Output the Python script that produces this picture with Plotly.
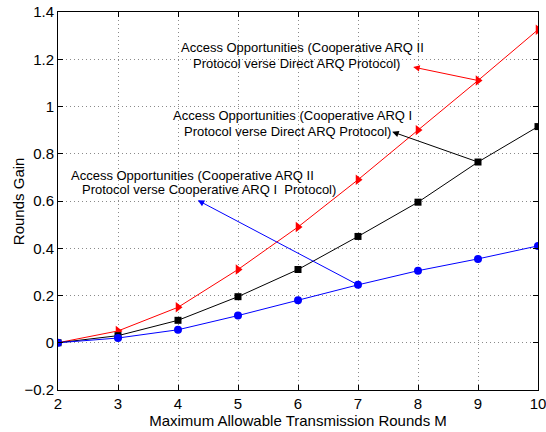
import plotly.graph_objects as go

M = [2, 3, 4, 5, 6, 7, 8, 9, 10]
coop2_vs_direct = [0, 0.05, 0.15, 0.31, 0.49, 0.69, 0.90, 1.11, 1.325]
coop1_vs_direct = [0, 0.03, 0.095, 0.195, 0.31, 0.45, 0.595, 0.765, 0.915]
coop2_vs_coop1 = [0, 0.02, 0.055, 0.115, 0.18, 0.245, 0.305, 0.355, 0.41]

y_ticks = [-0.2, 0, 0.2, 0.4, 0.6, 0.8, 1, 1.2, 1.4]
y_ticklabels = ["\u22120.2", "0", "0.2", "0.4", "0.6", "0.8", "1", "1.2", "1.4"]
x_ticks = [2, 3, 4, 5, 6, 7, 8, 9, 10]

label_lines = [
    ("Access Opportunities (Cooperative ARQ II", 4.03, 1.248),
    ("Protocol verse Direct ARQ Protocol)", 4.23, 1.184),
    ("Access Opportunities (Cooperative ARQ I", 3.90, 0.960),
    ("Protocol verse Direct ARQ Protocol)", 4.08, 0.896),
    ("Access Opportunities (Cooperative ARQ II", 2.20, 0.706),
    ("Protocol verse Cooperative ARQ I  Protocol)", 2.38, 0.647),
]

FONT = "Liberation Sans, Arial, sans-serif"

fig = go.Figure()
fig.add_trace(go.Scatter(x=M, y=coop2_vs_direct, mode="lines+markers",
                         line=dict(color="#ff0000", width=1),
                         marker=dict(symbol="triangle-right", size=9, color="#ff0000")))
fig.add_trace(go.Scatter(x=M, y=coop1_vs_direct, mode="lines+markers",
                         line=dict(color="#000000", width=1),
                         marker=dict(symbol="square", size=7, color="#000000")))
fig.add_trace(go.Scatter(x=M, y=coop2_vs_coop1, mode="lines+markers",
                         line=dict(color="#0000ff", width=1),
                         marker=dict(symbol="circle", size=8, color="#0000ff")))

font_ann = dict(family=FONT, size=13, color="#000000")
for txt, lx, ly in label_lines:
    fig.add_annotation(x=lx, y=ly, xref="x", yref="y", text=txt.replace("  ", " \u00a0"),
                       showarrow=False, font=font_ann, xanchor="left", yanchor="middle",
                       borderpad=0)

arrows = [
    (7.92, 1.167, 9, coop2_vs_direct[7], "#ff0000"),
    (7.57, 0.893, 9, coop1_vs_direct[7], "#000000"),
    (4.33, 0.603, 7, coop2_vs_coop1[5], "#0000ff"),
]
for hx, hy, tx, ty, c in arrows:
    fig.add_annotation(x=hx, y=hy, ax=tx, ay=ty, xref="x", yref="y", axref="x", ayref="y",
                       text="", showarrow=True, arrowhead=2, arrowsize=1.3, arrowwidth=1,
                       arrowcolor=c, standoff=0, startstandoff=0)

# y-axis title placed as a rotated annotation
fig.add_annotation(x=-0.083, y=0.5, xref="paper", yref="paper", text="Rounds Gain",
                   textangle=-90, showarrow=False, xanchor="center", yanchor="middle",
                   font=dict(family=FONT, size=15, color="#000000"))

axis_common = dict(showline=True, linecolor="#000000", linewidth=1, mirror="ticks",
                   ticks="inside", ticklen=5, tickcolor="#000000",
                   showgrid=True, gridcolor="#8a8a8a", griddash="1px,3px", gridwidth=1,
                   zeroline=False, automargin=False, ticklabeloverflow="allow",
                   tickfont=dict(family=FONT, size=15, color="#000000"))

fig.update_xaxes(range=[2, 10], tickvals=x_ticks,
                 title=dict(text="Maximum Allowable Transmission Rounds M",
                            font=dict(family=FONT, size=15, color="#000000"),
                            standoff=2),
                 **axis_common)
fig.update_yaxes(range=[-0.2, 1.4], tickvals=y_ticks, ticktext=y_ticklabels,
                 **axis_common)

fig.update_layout(width=546, height=432, showlegend=False,
                  margin=dict(l=58, r=8, t=12, b=42),
                  plot_bgcolor="#ffffff", paper_bgcolor="#ffffff")

fig.write_html("out.html", config={"displayModeBar": False},
               post_script="document.body.style.margin='0';")
